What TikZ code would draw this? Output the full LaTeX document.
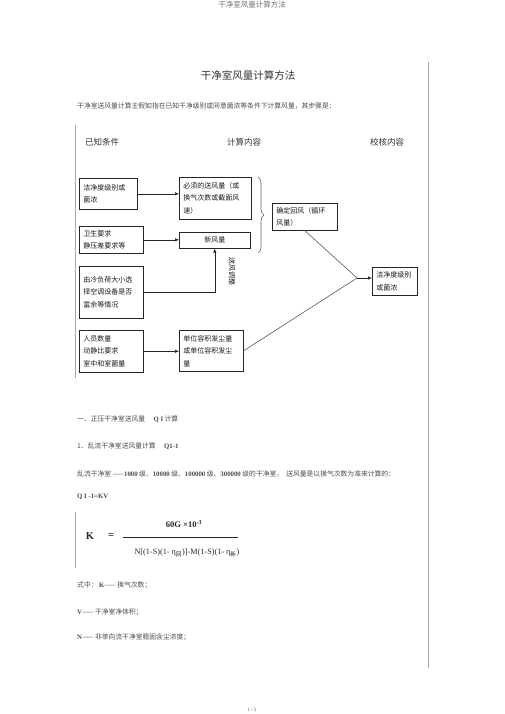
\documentclass[tikz,border=0pt]{standalone}
\usepackage{fontspec}
\setmainfont{Liberation Serif}
\newfontfamily\cjk{Noto Sans CJK SC}
\newfontfamily\lat{Liberation Serif}
\usetikzlibrary{arrows.meta,decorations.pathreplacing}
\newcommand\latb[1]{{\lat\bfseries #1}}

\tikzset{
	box/.style={draw=black!85, line width=0.6pt, anchor=north west, align=left, inner xsep=4pt, inner ysep=2pt, text=black!90, font=\cjk\fontsize{7}{12.5}\selectfont},
	head/.style={text=black!80, font=\cjk\fontsize{8.5}{10}\selectfont},
	body/.style={anchor=west, inner sep=0pt, text=black!70, font=\cjk\fontsize{6.8}{8}\selectfont},
	rule/.style={draw=black!35, line width=0.6pt},
	link/.style={draw=black!85, line width=0.6pt},
	tip/.style={link, -{Latex[length=4pt,width=3.5pt]}}
}

\begin{document}
\begin{tikzpicture}[x=1pt, y=-1pt]
		%%%%% PAGE %%%%%
		\useasboundingbox[fill=white] (0, 0) rectangle (505, 714);
		\node[text=black!55, font=\cjk\fontsize{7.5}{9}\selectfont] (kopf) at (252, 5) {干净室风量计算方法};
		\node[text=black!80, font=\cjk\fontsize{10.5}{12}\selectfont] (titel) at (248, 75) {干净室风量计算方法};
		\node[body] (intro) at (77, 106) {干净室送风量计算主假如指在已知干净级别或同意菌浓等条件下计算风量，其步骤是：};
		
		\draw[rule] (428, 62) -- (428, 668);
		\draw[rule] (75, 125) -- (75, 378);
		\draw[rule] (75, 512) -- (75, 568);
		
		%%%%% CHART %%%%%
		\node[head] (h1) at (102, 142) {已知条件};
		\node[head] (h2) at (244, 142) {计算内容};
		\node[head] (h3) at (387, 142) {校核内容};
		
		\node[box, text width=50pt, minimum height=31pt] (jd) at (79, 178) {洁净度级别或\\菌浓};
		\node[box, text width=64pt, minimum height=42pt] (sf) at (179, 177) {必须的送风量（或\\换气次数或截面风\\速）};
		\node[box, text width=57pt, minimum height=27pt] (hf) at (272, 203) {确定回风（循环\\风量）};
		\node[box, text width=56pt, minimum height=27pt] (ws) at (79, 226) {卫生要求\\静压差要求等};
		\node[box, text width=63pt, minimum height=16pt, align=center] (xf) at (179, 232) {新风量};
		\node[box, text width=56pt, minimum height=52pt] (lf) at (79, 266) {由冷负荷大小选\\择空调设备是否\\富余等情况};
		\node[box, text width=37pt, minimum height=28pt] (jd2) at (372, 267) {洁净度级别\\或菌浓};
		\node[box, text width=56pt, minimum height=42pt] (ry) at (79, 330) {人员数量\\动静比要求\\室中和室菌量};
		\node[box, text width=56pt, minimum height=41pt] (dw) at (179, 330) {单位容积发尘量\\或单位容积发尘\\量};
		
		\node[rotate=-90, inner sep=0pt, text=black!90, font=\cjk\fontsize{7}{8}\selectfont] (tz) at (232, 271) {送风调整};
		
		\draw[tip] (jd.east) -- (jd.east -| sf.west);
		\draw[tip] (ws.east) -- (ws.east -| xf.west);
		\draw[tip] (lf.east) -| (xf.south);
		\draw[tip] (ry.east) -- (ry.east -| dw.west);
		
		\draw[link, draw=black!60, decorate, decoration={brace, amplitude=6pt}] (258, 177) -- (258, 253);
		
		\coordinate (mg) at (357, 278);
		\draw[link, draw=black!65] (hf.south) -- (mg);
		\draw[link, draw=black!65] (dw.east) -- (mg);
		\draw[tip] (mg) -- (mg -| jd2.west);
		
		%%%%% TEXT %%%%%
		\node[body] (z1) at (77, 419) {一、正压干净室送风量\quad\ \latb{Q I} 计算};
		\node[body] (z2) at (77, 446) {1．乱流干净室送风量计算\quad\ \latb{Q1-1}};
		\node[body] (z3) at (77, 474) {乱流干净室 ——\latb{1000} 级、\latb{10000} 级、\latb{100000} 级、\latb{300000} 级的干净室，\ \ 送风量是以换气次数为准来计算的：};
		\node[body] (z4) at (77, 497) {\latb{Q I -1=KV}};
		
		\node[text=black!85, font=\lat\bfseries\fontsize{10.5}{12}\selectfont] (fk) at (90, 536) {K};
		\node[text=black!85, font=\lat\bfseries\fontsize{10.5}{12}\selectfont] (fg) at (111, 536) {=};
		\node[text=black!85, font=\lat\bfseries\fontsize{8.5}{10}\selectfont] (fz) at (184, 524) {60G ×10\textsuperscript{-3}};
		\node[text=black!85, font=\lat\fontsize{8.2}{10}\selectfont] (fm) at (187, 553) {N[(1-S)(1- η\textsubscript{\cjk 回})]-M(1-S)(1- η\textsubscript{\cjk 新})};
		\draw[link, line width=0.8pt] (123, 537) -- (238, 537);
		
		\node[body] (z5) at (77, 585) {式中：\ \latb{K}—— 换气次数；};
		\node[body] (z6) at (77, 612) {\latb{V}—— 干净室净体积；};
		\node[body] (z7) at (77, 637) {\latb{N}—— 非单向流干净室稳固含尘浓度；};
		
		\node[text=black!60, font=\lat\fontsize{5}{6}\selectfont] (seite) at (252, 710) {1 / 5};
	\end{tikzpicture}
\end{document}
